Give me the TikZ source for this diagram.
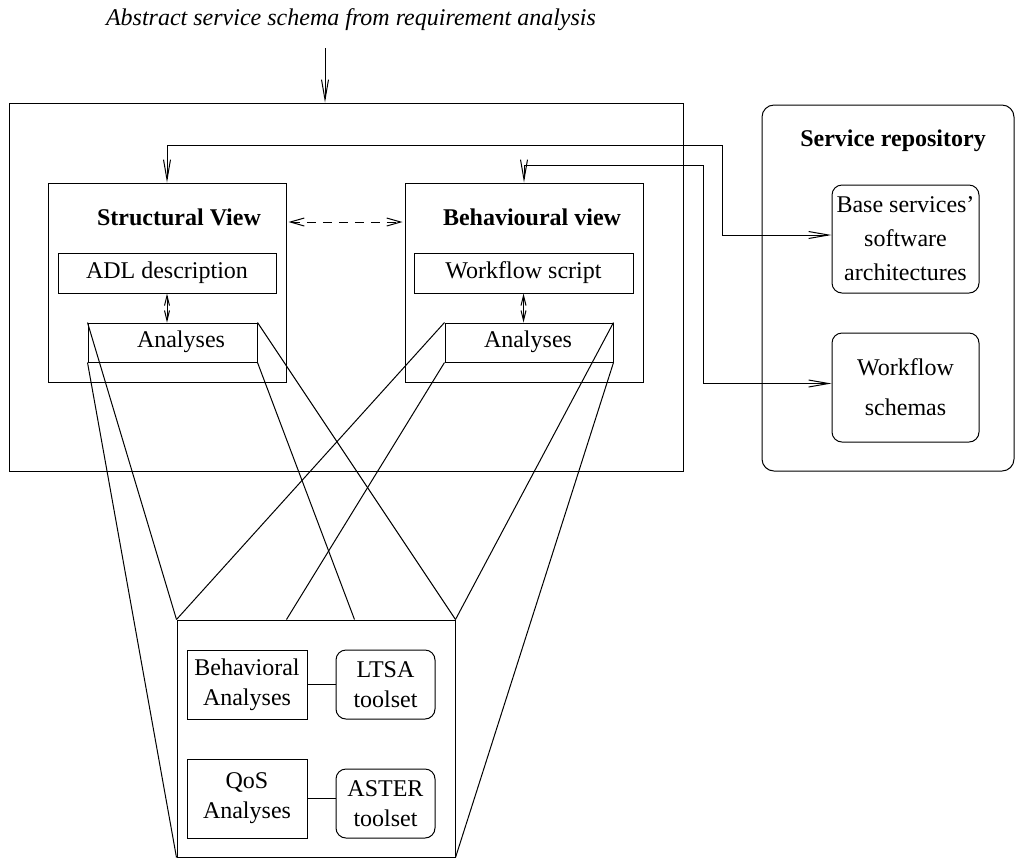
\documentclass[tikz,border=0pt]{standalone}
\usepackage{fontspec}
\setmainfont{Liberation Serif}
\usetikzlibrary{arrows.meta}
\begin{document}
\begin{tikzpicture}[x=0.5pt,y=-0.5pt,line width=0.5pt,
  rm/.style={font=\fontsize{12}{15}\selectfont},
  label/.style={rm,inner sep=0pt},
  heading/.style={font=\fontsize{12}{15}\selectfont\bfseries,inner sep=0pt},
  box/.style={draw,rm,inner sep=0pt,align=center},
  rbox/.style={box,rounded corners=5pt},
  barb/.style={-{Straight Barb[length=10pt,width=3.5pt]}},
  twobarb/.style={{Straight Barb[length=10pt,width=3.5pt]}-{Straight Barb[length=10pt,width=3.5pt]}},
  smallbarb/.style={{Straight Barb[length=5pt,width=2.5pt]}-{Straight Barb[length=5pt,width=2.5pt]}},
  dashbarb/.style={{Straight Barb[length=7pt,width=4pt]}-{Straight Barb[length=7pt,width=4pt]},
                   dash pattern=on 4.5pt off 3.5pt}]
\useasboundingbox (0,0) rectangle (1018,859);

% input from the requirement analysis
\node[label,font=\fontsize{12}{15}\selectfont\itshape] (title) at (351,20)
  {Abstract service schema from requirement analysis};
\coordinate (in) at (325,48);

% service composition frame with its two views
\node[box,minimum width=337pt,minimum height=184pt] (outer) at (346,287) {};
\node[box,minimum width=119pt,minimum height=99.5pt] (struct) at (167,282.5) {};
\node[heading] (structT) at (179,217) {Structural View};
\node[box,minimum width=109pt,minimum height=20pt] (adl) at (167,273) {ADL description};
\node[box,minimum width=84.5pt,minimum height=19.5pt] (anL) at (172.5,342.5) {};
\node[label] (anLT) at (181,342) {Analyses};

\node[box,minimum width=119pt,minimum height=99.5pt] (behav) at (524,282.5) {};
\node[heading] (behavT) at (532,217) {Behavioural view};
\node[box,minimum width=109.5pt,minimum height=20pt] (wfs) at (523.5,273) {Workflow script};
\node[box,minimum width=84pt,minimum height=19.5pt] (anR) at (529,342.5) {};
\node[label] (anRT) at (528,342) {Analyses};

% service repository
\node[draw,rounded corners=6pt,inner sep=0pt,minimum width=126pt,minimum height=183pt]
  (repo) at (888,288) {};
\node[heading] (repoT) at (893,141) {Service repository};
\node[rbox,font=\fontsize{12}{17}\selectfont,minimum width=73.5pt,minimum height=54pt]
  (base) at (905.5,239) {Base services'\\software\\architectures};
\node[rbox,font=\fontsize{12}{20}\selectfont,minimum width=73.5pt,minimum height=54.5pt]
  (wsch) at (905.5,387.5) {Workflow\\schemas};

% detail of the analyses
\node[box,minimum width=139pt,minimum height=118.5pt] (big) at (316,738.5) {};
\node[box,minimum width=60pt,minimum height=34.5pt] (beh) at (247,684.5) {Behavioral\\Analyses};
\node[rbox,minimum width=49.5pt,minimum height=34.5pt] (ltsa) at (385.5,684.5) {LTSA\\toolset};
\node[box,minimum width=60pt,minimum height=39.5pt] (qos) at (247,798.5) {QoS\\Analyses};
\node[rbox,minimum width=49.5pt,minimum height=34.5pt] (aster) at (385.5,803.5) {ASTER\\toolset};
\path (big.north west) ++(110,0) coordinate (pA) ++(68,0) coordinate (pB);

% connectors
\draw[barb] (in) -- (in |- outer.north);
\draw[dashbarb] ([xshift=1pt]struct.east |- 0,222) -- ([xshift=-1pt]behav.west |- 0,222);
\draw[smallbarb] (adl.south) -- (adl.south |- anL.north);
\draw[smallbarb] (wfs.south) -- (wfs.south |- anR.north);
\draw[twobarb] (struct.north) |- (722,145) |- ([yshift=2pt]base.west);
\draw[twobarb] (behav.north) |- (703,165) |- ([yshift=2pt]wsch.west);

% projection of both analyses boxes onto the detail box
\draw (anL.north west) -- (big.north west);
\draw (anL.south west) -- (big.south west);
\draw (anL.north east) -- (big.north east);
\draw (anL.south east) -- (pB);
\draw (anR.north west) -- (big.north west);
\draw (anR.south west) -- (pA);
\draw (anR.north east) -- (big.north east);
\draw (anR.south east) -- (big.south east);

% tools attached to each analysis
\draw (beh.east) -- (beh.east -| ltsa.west);
\draw (qos.east) -- (qos.east -| aster.west);
\end{tikzpicture}
\end{document}
